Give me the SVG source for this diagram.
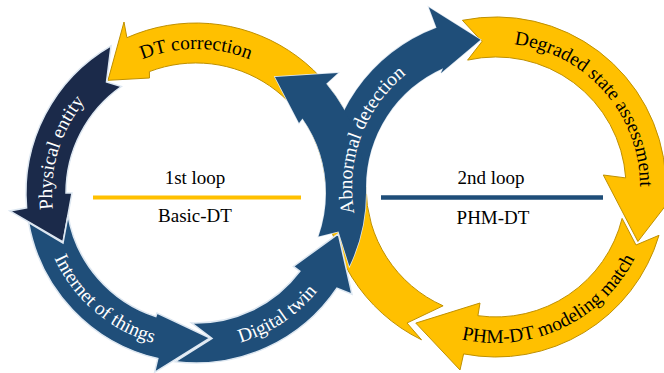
<svg xmlns="http://www.w3.org/2000/svg" width="664" height="373" viewBox="0 0 664 373">
<style>
.y{fill:#ffc000;stroke:#bf9000;stroke-width:1}
.b{fill:#1f4e79;stroke:#dde7f1;stroke-width:1.5}
.n{fill:#1b2a4a;stroke:#dde7f1;stroke-width:1.5}
.bs{fill:none;stroke:#dde7f1;stroke-width:1.5}
.bf{fill:#1f4e79;stroke:none}
.lbl{font-family:"Liberation Serif","Times New Roman",serif;font-size:19.5px}
.w{fill:#ffffff}
.k{fill:#000000}
.ctr{font-family:"Liberation Serif","Times New Roman",serif;font-size:19px;fill:#000000;text-anchor:middle}
</style>
<defs>
<path id="pS" d="M349.4,266.2 A170,170 0 0 0 366,193 L366,187 A130,130 0 0 1 443.1,68.2 L441,73 L480.5,39.8 L428.8,7.2 L436.5,27.8 A170,170 0 0 0 326,187 L326,193 A130,130 0 0 1 318.5,236.4 L338.5,231.5 Z"/>
<path id="pBr" d="M366,193 A170,170 0 0 0 326.2,83.7 L338,73 L275,77 L299,123 L302.5,118.4 A130,130 0 0 1 326,193 Z"/>
<path id="tpPE" d="M91.5,292.1 A144,144 0 0 1 162.4,53"/>
<path id="tpDTC" d="M71.3,121 A144,144 0 0 1 320.7,121"/>
<path id="tpAB" d="M384.9,278.6 A144,144 0 0 1 472.2,45"/>
<path id="tpDSA" d="M467.5,45.8 A144,144 0 0 1 632.5,232.9"/>
<path id="tpIoT" d="M42.7,164 A156,156 0 0 0 247.6,340.2"/>
<path id="tpDTw" d="M127.1,333 A156,156 0 0 0 351.7,182.7"/>
<path id="tpPHM" d="M406.5,314.8 A156,156 0 0 0 651.4,200.6"/>
</defs>
<g id="dt-correction">
<path class="y" d="M421.5,339.8 A170,170 0 0 1 326,187 L326,193 A130,130 0 0 0 149.4,71.6 L149.5,78 L108,80.3 L124,22 L126.9,37.7 A170,170 0 0 1 366,193 L366,187 A130,130 0 0 0 443.1,305.8 L407,323 Z"/>
<text class="lbl k"><textPath href="#tpDTC" startOffset="50%" text-anchor="middle">DT correction</textPath></text>
</g>
<g id="degraded-state-assessment">
<path class="y" d="M462.4,20.3 A170,170 0 0 1 665.6,175.1 L690.5,173.4 L637.9,241.5 L603.3,175 L625.7,177.9 A130,130 0 0 0 467.6,60.1 L482,41.5 Z"/>
<text class="lbl k"><textPath href="#tpDSA" startOffset="50%" text-anchor="middle">Degraded state assessment</textPath></text>
</g>
<g id="phm-dt-modeling-match">
<path class="y" d="M659,235.3 A170,170 0 0 1 463.6,353.9 L460,370 L415.8,323.1 L480,303 L477.9,315.7 A130,130 0 0 0 622.1,218.4 L636,245 Z"/>
<text class="lbl k"><textPath href="#tpPHM" startOffset="50%" text-anchor="middle">PHM-DT modeling match</textPath></text>
</g>
<g id="physical-entity">
<path class="n" d="M111,45.8 A170,170 0 0 0 26.6,207.8 L9.8,210.9 L63,242 L72,193 L66,193 A130,130 0 0 1 121.4,86.5 L106.5,82 Z"/>
<text class="lbl w"><textPath href="#tpPE" startOffset="50%" text-anchor="middle">Physical entity</textPath></text>
</g>
<g id="internet-of-things">
<path class="b" d="M28.6,222.5 A170,170 0 0 0 157.8,358.6 L154.6,372.3 L210,338 L157,313 L155.8,316.6 A130,130 0 0 1 68,215.6 L63,243 Z"/>
<text class="lbl w"><textPath href="#tpIoT" startOffset="50%" text-anchor="middle">Internet of things</textPath></text>
</g>
<g id="digital-twin">
<path class="b" d="M175.3,361.7 A170,170 0 0 0 336.9,288.1 L352,294.3 L338.3,233.8 L293.4,266.4 L299.8,271.2 A130,130 0 0 1 191.5,322.9 L212,338.5 Z"/>
<text class="lbl w"><textPath href="#tpDTw" startOffset="50%" text-anchor="middle">Digital twin</textPath></text>
</g>
<g id="abnormal-detection">
<use href="#pS" class="bs"/>
<use href="#pBr" class="bs"/>
<use href="#pS" class="bf"/>
<use href="#pBr" class="bf"/>
<text class="lbl w"><textPath href="#tpAB" startOffset="50%" text-anchor="middle">Abnormal detection</textPath></text>
</g>
<g id="loop1">
<line x1="93" y1="197.5" x2="301" y2="197.5" stroke="#ffc000" stroke-width="4"/>
<text class="ctr" x="195" y="184">1st loop</text>
<text class="ctr" x="195" y="222">Basic-DT</text>
</g>
<g id="loop2">
<line x1="381" y1="197.5" x2="603" y2="197.5" stroke="#1f4e79" stroke-width="4.5"/>
<text class="ctr" x="491" y="184">2nd loop</text>
<text class="ctr" x="493" y="224">PHM-DT</text>
</g>
</svg>
